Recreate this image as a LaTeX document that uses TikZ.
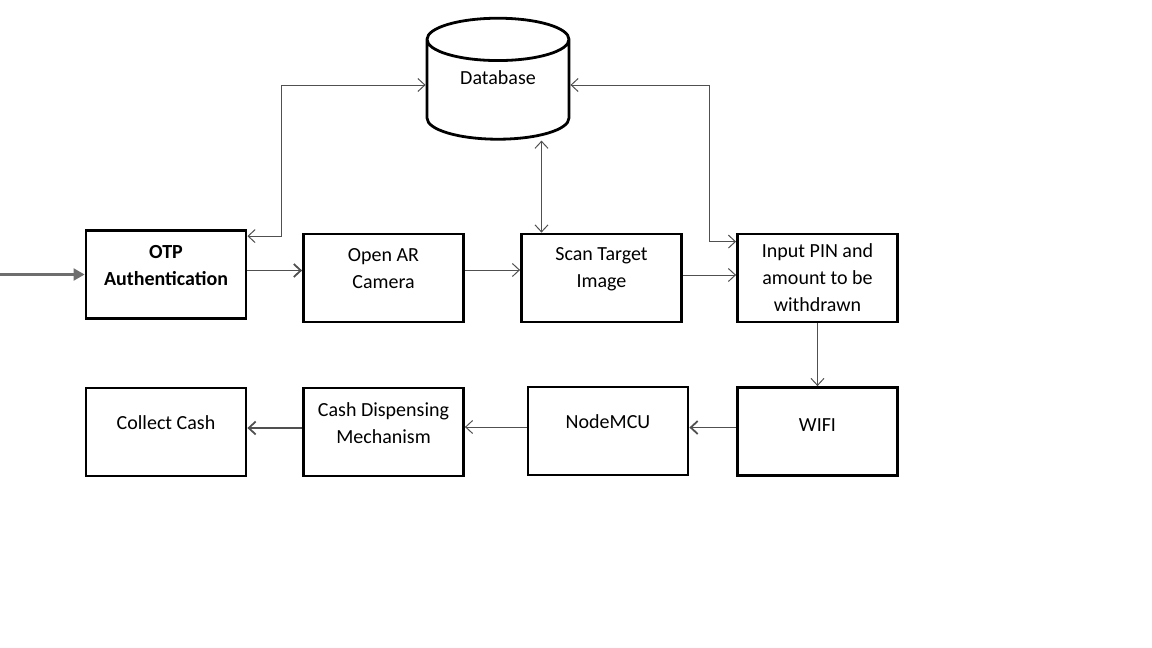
\documentclass[tikz,border=0pt]{standalone}
\usepackage{fontspec}
\setmainfont{Carlito}
\usetikzlibrary{arrows.meta,shapes.geometric}
\definecolor{linkgray}{HTML}{505050}
\definecolor{ingray}{HTML}{6E6E6E}
\tikzset{
	block/.style={draw, line width=2.8pt, minimum width=160pt, minimum height=88pt, inner sep=0pt},
	txt/.style={align=center, font=\fontsize{20}{27}\selectfont, yshift=9pt},
	link/.style={draw=linkgray, line width=1pt},
	heavy/.style={line width=1.8pt},
	>={Straight Barb[length=7pt,width=13pt]}
}
\begin{document}
\begin{tikzpicture}[x=1pt,y=-1pt]
	\useasboundingbox (0,0) rectangle (1152,648); % keeps the page size
	
	% the store
	\node[draw, cylinder, shape border rotate=90, aspect=0.56, line width=2.8pt,
	minimum width=142pt, minimum height=121pt, inner sep=0pt,
	font=\fontsize{20}{27}\selectfont,
	label={[txt,yshift=3pt]center:Database}] (db) at (498,90) {\phantom{Database}};
	
	% upper row
	\node[block, label={[txt]center:{\bfseries OTP\\\bfseries Authentication}}] (otp) at (166,274.5) {};
	\node[block, label={[txt]center:{Open AR\\Camera}}] (cam) at (383.5,278) {};
	\node[block, label={[txt]center:{Scan Target\\Image}}] (scan) at (601.5,278) {};
	\node[block, label={[txt,yshift=-9pt]center:{Input PIN and\\amount to be\\withdrawn}}] (pin) at (817.5,278) {};
	
	% lower row
	\node[block, label={[txt,yshift=-3pt]center:WIFI}] (wifi) at (817.5,431.5) {};
	\node[block, label={[txt]center:NodeMCU}] (mcu) at (608,431) {};
	\node[block, label={[txt]center:{Cash Dispensing\\Mechanism}}] (cdm) at (383.5,432) {};
	\node[block, label={[txt]center:Collect Cash}] (cash) at (166,432) {};
	
	% way in
	\coordinate (start) at (0,274.5);
	\draw[draw=ingray, line width=2.2pt, -{Triangle[length=11pt,width=12pt]}] (start) -- (otp);
	
	% flow along the rows
	\draw[link,heavy,->] ([yshift=4pt]otp.east) -- ([yshift=4pt]otp.east -| cam.west);
	\draw[link,->] ([yshift=8pt]cam.east) -- ([yshift=8pt]cam.east -| scan.west);
	\draw[link,->] ([yshift=3pt]scan.east) -- ([yshift=3pt]scan.east -| pin.west);
	\draw[link,->] (pin.south) -- (wifi.north);
	\draw[link,heavy,->] ([yshift=4pt]wifi.west) -- ([yshift=4pt]wifi.west -| mcu.east);
	\draw[link,->] ([yshift=4pt]mcu.west) -- ([yshift=4pt]mcu.west -| cdm.east);
	\draw[link,heavy,->] ([yshift=4pt]cdm.west) -- ([yshift=4pt]cdm.west -| cash.east);
	
	% links to the store
	\draw[link,<->] ([yshift=-7pt]otp.north east) -- ++(34,0) |- ([yshift=5pt]db.west);
	\draw[link,<->] ([xshift=-60pt]scan.north) -- ([xshift=-60pt]scan.north |- db.south);
	\draw[link,<->] ([yshift=5pt]db.east) -| ([xshift=-27pt,yshift=-9pt]pin.north west) -- ([yshift=-9pt]pin.north west);
	
\end{tikzpicture}
\end{document}
